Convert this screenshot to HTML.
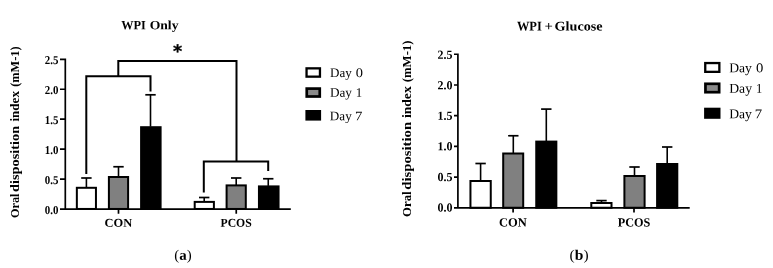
<!DOCTYPE html>
<html lang="en"><head><meta charset="utf-8"><title>Oral disposition index</title>
<style>
html,body{margin:0;padding:0;background:#fff}
body{width:773px;height:268px;overflow:hidden}
svg{display:block}
text{font-family:"Liberation Serif",serif;fill:#000}
text.star{font-family:"DejaVu Sans",sans-serif;stroke:#000;stroke-width:0.35px}
</style></head><body>
<svg width="773" height="268" viewBox="0 0 773 268">
<rect width="773" height="268" fill="#fff"/>
<g id="chart-L">
<path d="M86.40 187.30V178.00" fill="none" stroke="#000" stroke-width="1.6"/><path d="M81.20 178.00H91.60" fill="none" stroke="#000" stroke-width="1.7"/>
<rect x="76.85" y="187.80" width="19.10" height="21.15" fill="#fff" stroke="#000" stroke-width="2.0"/>
<path d="M118.50 176.50V166.75" fill="none" stroke="#000" stroke-width="1.6"/><path d="M113.30 166.75H123.70" fill="none" stroke="#000" stroke-width="1.7"/>
<rect x="108.90" y="177.00" width="19.20" height="31.95" fill="#808080" stroke="#000" stroke-width="2.0"/>
<path d="M150.50 126.70V94.80" fill="none" stroke="#000" stroke-width="1.6"/><path d="M145.30 94.80H155.70" fill="none" stroke="#000" stroke-width="1.7"/>
<rect x="141.10" y="127.20" width="19.50" height="81.75" fill="#000" stroke="#000" stroke-width="2.0"/>
<path d="M204.20 201.40V197.50" fill="none" stroke="#000" stroke-width="1.6"/><path d="M199.00 197.50H209.40" fill="none" stroke="#000" stroke-width="1.7"/>
<rect x="194.70" y="201.90" width="19.20" height="7.05" fill="#fff" stroke="#000" stroke-width="2.0"/>
<path d="M236.20 184.90V178.00" fill="none" stroke="#000" stroke-width="1.6"/><path d="M231.00 178.00H241.40" fill="none" stroke="#000" stroke-width="1.7"/>
<rect x="226.60" y="185.40" width="19.20" height="23.55" fill="#808080" stroke="#000" stroke-width="2.0"/>
<path d="M268.25 185.90V178.75" fill="none" stroke="#000" stroke-width="1.6"/><path d="M263.05 178.75H273.45" fill="none" stroke="#000" stroke-width="1.7"/>
<rect x="258.95" y="186.40" width="19.60" height="22.55" fill="#000" stroke="#000" stroke-width="2.0"/>
<path d="M65.3 58.50V209.90M64.50 209.1H290.8M60.0 209.10H65.3M60.0 179.14H65.3M60.0 149.18H65.3M60.0 119.22H65.3M60.0 89.26H65.3M60.0 59.30H65.3M118.5 209.1V213.8M236.25 209.1V213.8" fill="none" stroke="#000" stroke-width="1.7"/>
<text transform="rotate(0.03 58.4 213.70)" x="58.4" y="213.70" font-size="12.0" font-weight="bold" text-anchor="end" textLength="13.6" lengthAdjust="spacingAndGlyphs">0.0</text>
<text transform="rotate(0.03 58.4 183.74)" x="58.4" y="183.74" font-size="12.0" font-weight="bold" text-anchor="end" textLength="13.6" lengthAdjust="spacingAndGlyphs">0.5</text>
<text transform="rotate(0.03 58.4 153.78)" x="58.4" y="153.78" font-size="12.0" font-weight="bold" text-anchor="end" textLength="13.6" lengthAdjust="spacingAndGlyphs">1.0</text>
<text transform="rotate(0.03 58.4 123.82)" x="58.4" y="123.82" font-size="12.0" font-weight="bold" text-anchor="end" textLength="13.6" lengthAdjust="spacingAndGlyphs">1.5</text>
<text transform="rotate(0.03 58.4 93.86)" x="58.4" y="93.86" font-size="12.0" font-weight="bold" text-anchor="end" textLength="13.6" lengthAdjust="spacingAndGlyphs">2.0</text>
<text transform="rotate(0.03 58.4 63.90)" x="58.4" y="63.90" font-size="12.0" font-weight="bold" text-anchor="end" textLength="13.6" lengthAdjust="spacingAndGlyphs">2.5</text>
<text transform="rotate(0.03 118.3 226.85)" x="118.3" y="226.85" font-size="12.0" font-weight="bold" text-anchor="middle" textLength="27.7" lengthAdjust="spacingAndGlyphs">CON</text>
<text transform="rotate(0.03 236.1 226.85)" x="236.1" y="226.85" font-size="12.0" font-weight="bold" text-anchor="middle" textLength="31.2" lengthAdjust="spacingAndGlyphs">PCOS</text>
<text transform="rotate(0.03 121.3 29.2)" y="29.2" font-size="12.6" font-weight="bold"><tspan x="121.34" textLength="24.52" lengthAdjust="spacingAndGlyphs">WPI</tspan> <tspan x="149.68" textLength="28.81" lengthAdjust="spacingAndGlyphs">Only</tspan></text>
<text transform="translate(18.75 0) rotate(-90)" font-size="12.7" font-weight="bold"><tspan x="-217.94" textLength="24.36" lengthAdjust="spacingAndGlyphs">Oral</tspan> <tspan x="-192.08" textLength="66.39" lengthAdjust="spacingAndGlyphs">disposition</tspan> <tspan x="-121.62" textLength="30.56" lengthAdjust="spacingAndGlyphs">index</tspan> <tspan x="-86.83" textLength="40.39" lengthAdjust="spacingAndGlyphs">(mM-1)</tspan></text>
<rect x="306.55" y="68.35" width="13.40" height="8.30" fill="#fff" stroke="#000" stroke-width="2.3"/>
<text transform="rotate(0.03 330.0 76.9)" y="76.9" font-size="13.0" font-weight="normal"><tspan x="329.99" textLength="21.71" lengthAdjust="spacingAndGlyphs">Day</tspan> <tspan x="355.78" textLength="7.21" lengthAdjust="spacingAndGlyphs">0</tspan></text>
<rect x="306.75" y="88.60" width="13.00" height="7.90" fill="#8a8a8a" stroke="#000" stroke-width="2.7"/>
<text transform="rotate(0.03 330.0 96.8)" y="96.8" font-size="13.0" font-weight="normal"><tspan x="329.98" textLength="21.99" lengthAdjust="spacingAndGlyphs">Day</tspan> <tspan x="355.67" textLength="6.46" lengthAdjust="spacingAndGlyphs">1</tspan></text>
<rect x="306.55" y="111.15" width="13.40" height="8.30" fill="#000" stroke="#000" stroke-width="2.3"/>
<text transform="rotate(0.03 329.9 120.3)" y="120.3" font-size="13.0" font-weight="normal"><tspan x="329.85" textLength="21.89" lengthAdjust="spacingAndGlyphs">Day</tspan> <tspan x="354.9" textLength="7.37" lengthAdjust="spacingAndGlyphs">7</tspan></text>
<text transform="rotate(0.03 174.3 259.7)" x="174.3" y="259.7" font-size="14.5" font-weight="normal" textLength="17.4" lengthAdjust="spacingAndGlyphs">(<tspan font-weight="bold">a</tspan>)</text>
</g>
<g id="chart-R">
<path d="M480.60 180.50V163.50" fill="none" stroke="#000" stroke-width="1.6"/><path d="M475.40 163.50H485.80" fill="none" stroke="#000" stroke-width="1.7"/>
<rect x="470.45" y="181.00" width="20.30" height="26.75" fill="#fff" stroke="#000" stroke-width="2.0"/>
<path d="M513.30 153.00V135.75" fill="none" stroke="#000" stroke-width="1.6"/><path d="M508.10 135.75H518.50" fill="none" stroke="#000" stroke-width="1.7"/>
<rect x="503.20" y="153.50" width="20.00" height="54.25" fill="#808080" stroke="#000" stroke-width="2.0"/>
<path d="M546.30 141.10V109.10" fill="none" stroke="#000" stroke-width="1.6"/><path d="M541.10 109.10H551.50" fill="none" stroke="#000" stroke-width="1.7"/>
<rect x="536.25" y="141.60" width="20.10" height="66.15" fill="#000" stroke="#000" stroke-width="2.0"/>
<path d="M601.50 202.50V200.60" fill="none" stroke="#000" stroke-width="1.6"/><path d="M596.30 200.60H606.70" fill="none" stroke="#000" stroke-width="1.7"/>
<rect x="591.30" y="203.00" width="20.20" height="4.75" fill="#fff" stroke="#000" stroke-width="2.0"/>
<path d="M634.50 175.50V167.00" fill="none" stroke="#000" stroke-width="1.6"/><path d="M629.30 167.00H639.70" fill="none" stroke="#000" stroke-width="1.7"/>
<rect x="624.40" y="176.00" width="20.20" height="31.75" fill="#808080" stroke="#000" stroke-width="2.0"/>
<path d="M667.20 163.50V147.00" fill="none" stroke="#000" stroke-width="1.6"/><path d="M662.00 147.00H672.40" fill="none" stroke="#000" stroke-width="1.7"/>
<rect x="657.10" y="164.00" width="20.20" height="43.75" fill="#000" stroke="#000" stroke-width="2.0"/>
<path d="M457.9 53.45V208.70M457.10 207.9H689.7M454.0 207.90H457.9M454.0 177.17H457.9M454.0 146.44H457.9M454.0 115.71H457.9M454.0 84.98H457.9M454.0 54.25H457.9M513.1 207.9V212.4M634.0 207.9V212.4" fill="none" stroke="#000" stroke-width="1.7"/>
<text transform="rotate(0.03 452.5 211.45)" x="452.5" y="211.45" font-size="12.3" font-weight="bold" text-anchor="end" textLength="15.0" lengthAdjust="spacingAndGlyphs">0.0</text>
<text transform="rotate(0.03 452.5 180.90)" x="452.5" y="180.90" font-size="12.3" font-weight="bold" text-anchor="end" textLength="15.0" lengthAdjust="spacingAndGlyphs">0.5</text>
<text transform="rotate(0.03 452.5 150.35)" x="452.5" y="150.35" font-size="12.3" font-weight="bold" text-anchor="end" textLength="15.0" lengthAdjust="spacingAndGlyphs">1.0</text>
<text transform="rotate(0.03 452.5 119.80)" x="452.5" y="119.80" font-size="12.3" font-weight="bold" text-anchor="end" textLength="15.0" lengthAdjust="spacingAndGlyphs">1.5</text>
<text transform="rotate(0.03 452.5 89.25)" x="452.5" y="89.25" font-size="12.3" font-weight="bold" text-anchor="end" textLength="15.0" lengthAdjust="spacingAndGlyphs">2.0</text>
<text transform="rotate(0.03 452.5 58.70)" x="452.5" y="58.70" font-size="12.3" font-weight="bold" text-anchor="end" textLength="15.0" lengthAdjust="spacingAndGlyphs">2.5</text>
<text transform="rotate(0.03 512.9 226.55)" x="512.9" y="226.55" font-size="12.5" font-weight="bold" text-anchor="middle" textLength="27.8" lengthAdjust="spacingAndGlyphs">CON</text>
<text transform="rotate(0.03 634.1 226.55)" x="634.1" y="226.55" font-size="12.5" font-weight="bold" text-anchor="middle" textLength="32.6" lengthAdjust="spacingAndGlyphs">PCOS</text>
<text transform="rotate(0.03 516.9 30.5)" y="30.5" font-size="13.3" font-weight="bold"><tspan x="516.9" textLength="24.83" lengthAdjust="spacingAndGlyphs">WPI</tspan> <tspan x="544.4" textLength="8.36" lengthAdjust="spacingAndGlyphs">+</tspan> <tspan x="554.59" textLength="47.94" lengthAdjust="spacingAndGlyphs">Glucose</tspan></text>
<text transform="translate(411.25 0) rotate(-90)" font-size="13.2" font-weight="bold"><tspan x="-216.95" textLength="25.61" lengthAdjust="spacingAndGlyphs">Oral</tspan> <tspan x="-189.74" textLength="67.79" lengthAdjust="spacingAndGlyphs">disposition</tspan> <tspan x="-118.07" textLength="31.76" lengthAdjust="spacingAndGlyphs">index</tspan> <tspan x="-82.27" textLength="41.76" lengthAdjust="spacingAndGlyphs">(mM-1)</tspan></text>
<rect x="705.25" y="63.05" width="14.10" height="8.80" fill="#fff" stroke="#000" stroke-width="2.3"/>
<text transform="rotate(0.03 729.2 72.2)" y="72.2" font-size="13.4" font-weight="normal"><tspan x="729.21" textLength="22.68" lengthAdjust="spacingAndGlyphs">Day</tspan> <tspan x="756.13" textLength="7.33" lengthAdjust="spacingAndGlyphs">0</tspan></text>
<rect x="705.45" y="83.80" width="13.70" height="8.40" fill="#8a8a8a" stroke="#000" stroke-width="2.7"/>
<text transform="rotate(0.03 729.2 92.8)" y="92.8" font-size="13.4" font-weight="normal"><tspan x="729.22" textLength="22.8" lengthAdjust="spacingAndGlyphs">Day</tspan> <tspan x="756.03" textLength="6.34" lengthAdjust="spacingAndGlyphs">1</tspan></text>
<rect x="705.25" y="108.85" width="14.10" height="8.80" fill="#000" stroke="#000" stroke-width="2.3"/>
<text transform="rotate(0.03 729.2 118.3)" y="118.3" font-size="13.4" font-weight="normal"><tspan x="729.21" textLength="22.68" lengthAdjust="spacingAndGlyphs">Day</tspan> <tspan x="754.78" textLength="7.37" lengthAdjust="spacingAndGlyphs">7</tspan></text>
<text transform="rotate(0.03 569.6 259.7)" x="569.6" y="259.7" font-size="14.5" font-weight="normal" textLength="19.0" lengthAdjust="spacingAndGlyphs">(<tspan font-weight="bold">b</tspan>)</text>
</g>
<path d="M86.3 173.9V76.3H150.5V91.6M203.8 192.5V161.5H268.2V171M118.3 76.3V61H236.5V161.5" fill="none" stroke="#000" stroke-width="2.0" stroke-linejoin="miter" stroke-linecap="butt"/>
<text transform="rotate(0.03 177.5 57.3)" x="177.5" y="57.3" font-size="17.5" font-weight="bold" text-anchor="middle" class="star">*</text>
</svg>
</body></html>
